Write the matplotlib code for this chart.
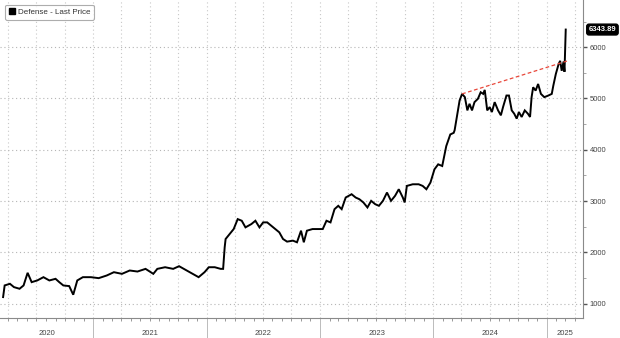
import numpy as np
import pandas as pd
import matplotlib
matplotlib.use("Agg")
import matplotlib.pyplot as plt
import matplotlib.dates as mdates
import matplotlib.transforms as mtrans
from matplotlib.patches import Patch

plt.rcParams['font.family'] = ['Liberation Sans', 'DejaVu Sans']

# Defense index, last price
dates = [
    "2020-03-16", "2020-03-21", "2020-04-07", "2020-04-20", "2020-05-08", "2020-05-21",
    "2020-06-03", "2020-06-16", "2020-07-04", "2020-07-24", "2020-08-12", "2020-09-01",
    "2020-09-13", "2020-09-26", "2020-10-15", "2020-10-28", "2020-11-10", "2020-11-28",
    "2020-12-24", "2021-01-18", "2021-02-13", "2021-03-08", "2021-04-03", "2021-04-28",
    "2021-05-23", "2021-06-18", "2021-07-13", "2021-07-26", "2021-08-20", "2021-09-15",
    "2021-10-04", "2021-10-29", "2021-11-17", "2021-12-06", "2021-12-25", "2022-01-08",
    "2022-01-27", "2022-02-15", "2022-02-23", "2022-02-28", "2022-03-03", "2022-03-16",
    "2022-03-29", "2022-04-11", "2022-04-24", "2022-05-06", "2022-05-25", "2022-06-07",
    "2022-06-20", "2022-07-02", "2022-07-15", "2022-07-28", "2022-08-10", "2022-08-23",
    "2022-09-04", "2022-09-17", "2022-10-06", "2022-10-19", "2022-11-01", "2022-11-10",
    "2022-11-20", "2022-12-08", "2022-12-27", "2023-01-10", "2023-01-22", "2023-02-04",
    "2023-02-17", "2023-03-01", "2023-03-12", "2023-03-25", "2023-04-13", "2023-04-26",
    "2023-05-08", "2023-05-21", "2023-06-03", "2023-06-15", "2023-06-28", "2023-07-10",
    "2023-07-23", "2023-08-05", "2023-08-18", "2023-08-31", "2023-09-12", "2023-09-25",
    "2023-10-01", "2023-10-08", "2023-10-27", "2023-11-15", "2023-11-28", "2023-12-10",
    "2023-12-23", "2024-01-05", "2024-01-17", "2024-01-30", "2024-02-12", "2024-02-25",
    "2024-03-07", "2024-03-10", "2024-03-26", "2024-04-03", "2024-04-12", "2024-04-20",
    "2024-04-27", "2024-05-05", "2024-05-13", "2024-05-24", "2024-06-02", "2024-06-10",
    "2024-06-15", "2024-06-23", "2024-07-01", "2024-07-08", "2024-07-17", "2024-07-28",
    "2024-08-06", "2024-08-13", "2024-08-24", "2024-09-01", "2024-09-10", "2024-09-18",
    "2024-09-26", "2024-10-03", "2024-10-12", "2024-10-22", "2024-11-01", "2024-11-08",
    "2024-11-13", "2024-11-18", "2024-11-26", "2024-12-04", "2024-12-13", "2024-12-24",
    "2025-01-06", "2025-01-17", "2025-01-22", "2025-01-30", "2025-02-08", "2025-02-13",
    "2025-02-18", "2025-02-24", "2025-02-27", "2025-03-03",
]
prices = [
    1129, 1356, 1388, 1323, 1291, 1356,
    1602, 1420, 1453, 1517, 1453, 1485,
    1420, 1356, 1343, 1175, 1453, 1517,
    1517, 1498, 1550, 1614, 1582, 1647,
    1627, 1679, 1582, 1679, 1711, 1679,
    1731, 1647, 1582, 1517, 1614, 1711,
    1711, 1679, 1679, 2100, 2261, 2358,
    2455, 2649, 2617, 2488, 2552, 2617,
    2488, 2585, 2585, 2520, 2455, 2391,
    2261, 2210, 2229, 2197, 2423, 2197,
    2423, 2455, 2455, 2455, 2617, 2585,
    2843, 2908, 2843, 3070, 3134, 3070,
    3037, 2973, 2876, 3005, 2940, 2908,
    3005, 3167, 3005, 3102, 3231, 3070,
    2973, 3296, 3328, 3328, 3296, 3231,
    3361, 3620, 3717, 3684, 4072, 4299,
    4331, 4382, 4961, 5090, 5026, 4768,
    4897, 4768, 4929, 4994, 5122, 5090,
    5167, 4768, 4833, 4736, 4929, 4768,
    4672, 4833, 5058, 5058, 4768, 4704,
    4607, 4736, 4640, 4768, 4704, 4640,
    5026, 5219, 5154, 5283, 5090, 5026,
    5058, 5090, 5251, 5476, 5669, 5734,
    5540, 5720, 5520, 6343.89,
]

# resistance line drawn on the chart
trend_dates = ["2024-04-03", "2025-03-07"]
trend_values = [5090, 5730]

years = [2020, 2021, 2022, 2023, 2024, 2025]
yticks = [1000, 2000, 3000, 4000, 5000, 6000]

x = pd.to_datetime(dates)
xmin, xmax = pd.Timestamp("2020-03-06"), pd.Timestamp("2025-04-27")

fig = plt.figure(figsize=(6.2, 3.38), dpi=100)
ax = fig.add_axes([0.0, 0.059, 0.940, 0.941])

ax.plot(x, prices, color='black', lw=1.4, solid_joinstyle='miter', zorder=3)
ax.plot(pd.to_datetime(trend_dates), trend_values, color='#e8473a', lw=0.9,
        linestyle=(0, (3, 2)), zorder=4)

ax.set_xlim(xmin, xmax)
ax.set_ylim(720, 6920)

# axes styling
for s in ['top', 'left']:
    ax.spines[s].set_visible(False)
ax.spines['right'].set_color('#8a8a8a')
ax.spines['bottom'].set_color('#8a8a8a')
ax.spines['right'].set_linewidth(0.8)
ax.spines['bottom'].set_linewidth(0.8)

ax.yaxis.tick_right()
ax.set_yticks(yticks)
ax.set_yticklabels([str(v) for v in yticks])
ax.set_yticks(np.arange(1500, 6600, 1000), minor=True)
ax.tick_params(axis='y', which='major', length=3, width=1, color='#555555',
               labelsize=5.5, labelcolor='#444444', pad=2)
ax.tick_params(axis='y', which='minor', length=2, width=0.6, color='#999999')

# x axis: year separators, monthly minor ticks, quarterly grid
ax.xaxis.set_major_locator(mdates.YearLocator())
ax.xaxis.set_major_formatter(plt.NullFormatter())
ax.xaxis.set_minor_locator(mdates.MonthLocator())
ax.tick_params(axis='x', which='major', length=20, width=0.7, color='#bbbbbb')
ax.tick_params(axis='x', which='minor', length=2, width=0.6, color='#888888')

ax.grid(axis='y', which='major', linestyle=(0, (1, 2.5)), color='#b5b5b5', lw=0.8)
for q in pd.date_range("2020-04-01", "2025-04-01", freq="QS"):
    ax.axvline(q, linestyle=(0, (1, 2.5)), color='#c8c8c8', lw=0.8, zorder=0)

trans = mtrans.blended_transform_factory(ax.transData, ax.transAxes)
for yr in years:
    a = max(pd.Timestamp(f"{yr}-01-01"), xmin)
    b = min(pd.Timestamp(f"{yr + 1}-01-01"), xmax)
    mid = a + (b - a) / 2
    ax.text(mid, -0.048, str(yr), transform=trans, ha='center', va='center',
            fontsize=5.5, color='#444444')

# legend
leg = ax.legend(handles=[Patch(facecolor='black', edgecolor='black')],
                labels=['Defense - Last Price'], loc='upper left',
                bbox_to_anchor=(0.002, 0.998), fontsize=5.8, frameon=True,
                handlelength=0.8, handleheight=0.8, handletextpad=0.3,
                borderpad=0.45, fancybox=True)
leg.get_frame().set_edgecolor('#999999')
leg.get_frame().set_linewidth(0.8)
for t in leg.get_texts():
    t.set_color('#333333')

# last price tag
ytr = mtrans.blended_transform_factory(ax.transAxes, ax.transData)
ax.text(1.01, prices[-1], f"{prices[-1]:.2f}", transform=ytr, ha='left', va='center',
        fontsize=5.5, color='white', fontweight='bold',
        bbox=dict(boxstyle='round,pad=0.25,rounding_size=0.3', fc='black', ec='black'))

fig.savefig("out.png", dpi=100)
